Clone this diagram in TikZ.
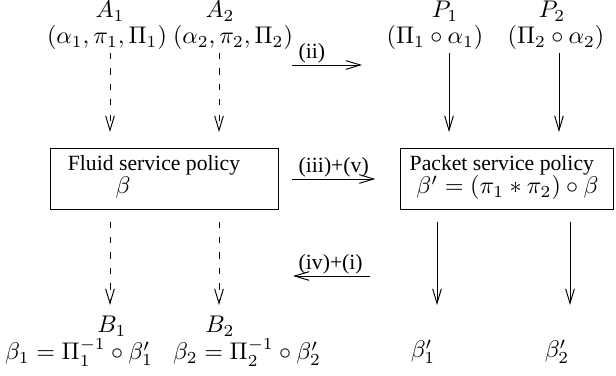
\documentclass[tikz,border=0pt]{standalone}
\usepackage{amsmath}
\usepackage{fontspec}
\setmainfont{Liberation Serif}
\usepackage{tikz}
\usetikzlibrary{arrows.meta}

\begin{document}
\begin{tikzpicture}[x=0.415pt, y=-0.415pt, line width=0.4pt,
		flow/.style={-{Straight Barb[length=6pt,width=3.6pt]}},
		dflow/.style={flow, dash pattern=on 2.6pt off 3.8pt},
		policy/.style={draw, minimum height=25pt},
		pair/.style={anchor=base, inner sep=1pt},
		txt/.style={font=\fontsize{9}{11}\selectfont, inner sep=0.5pt}]
		\useasboundingbox (0,0) rectangle (616,376);
		\node[pair] (A1) at (110,18) {$A_1$};
		\node[pair] (A1f) at (107,44) {$(\alpha_1,\pi_1,\Pi_1)$};
		\node[pair] (A2) at (220,18) {$A_2$};
		\node[pair] (A2f) at (233,44) {$(\alpha_2,\pi_2,\Pi_2)$};
		\node[pair] (P1) at (445,18) {$P_1$};
		\node[pair] (P1f) at (435,44) {$(\Pi_1\circ\alpha_1)$};
		\node[pair] (P2) at (552,18) {$P_2$};
		\node[pair] (P2f) at (556,44) {$(\Pi_2\circ\alpha_2)$};
		\node[policy, minimum width=95pt] (fluid) at (164.5,179) {};
		\node[txt, anchor=base] (fluidtxt) at (154,171) {Fluid service policy};
		\node[pair] (fluidbeta) at (123,194) {$\beta$};
		\node[policy, minimum width=88pt] (packet) at (507,179) {};
		\node[txt, anchor=base west] (packettxt) at (408,171) {Packet service policy};
		\node[anchor=base west, inner sep=0pt] (packetbeta) at (416,194) {$\beta'=(\pi_1*\pi_2)\circ\beta$};
		\node[pair] (B1) at (112,333) {$B_1$};
		\node[pair] (B1f) at (79,360) {$\beta_1=\Pi_1^{-1}\circ\beta'_1$};
		\node[pair] (B2) at (220,333) {$B_2$};
		\node[pair] (B2f) at (247,360) {$\beta_2=\Pi_2^{-1}\circ\beta'_2$};
		\node[pair] (Q1) at (423,358) {$\beta'_1$};
		\node[pair] (Q2) at (557,358) {$\beta'_2$};
		\coordinate (t1) at (110,132);
		\coordinate (t2) at (219,132);
		\coordinate (t3) at (449,132);
		\coordinate (t4) at (559,132);
		\coordinate (e1) at (110,305);
		\coordinate (e2) at (219,305);
		\coordinate (e3) at (437,305);
		\coordinate (e4) at (570,305);
		\draw[dflow](A1f.south -| t1)--(t1);
		\draw[dflow](A2f.south -| t2)--(t2);
		\draw[flow](P1f.south -| t3)--(t3);
		\draw[flow](P2f.south -| t4)--(t4);
		\draw[dflow, shorten <=5pt](fluid.south -| e1)--(e1);
		\draw[dflow, shorten <=5pt](fluid.south -| e2)--(e2);
		\draw[flow, shorten <=5pt](packet.south -| e3)--(e3);
		\draw[flow, shorten <=5pt](packet.south -| e4)--(e4);
		\coordinate (ii) at (292,65);
		\draw[flow](ii)--++(70,0);
		\node[txt, anchor=south west] (iilbl) at (297,65) {(ii)};
		\draw[flow, shorten <=5.4pt, shorten >=10.4pt](fluid)--(packet);
		\node[txt, anchor=south west] (iiivlbl) at (297,179) {(iii)+(v)};
		\coordinate (iv) at (370,276);
		\draw[flow](iv)--++(-77,0);
		\node[txt, anchor=south west] (ivlbl) at (297,276) {(iv)+(i)};
	\end{tikzpicture}
\end{document}
